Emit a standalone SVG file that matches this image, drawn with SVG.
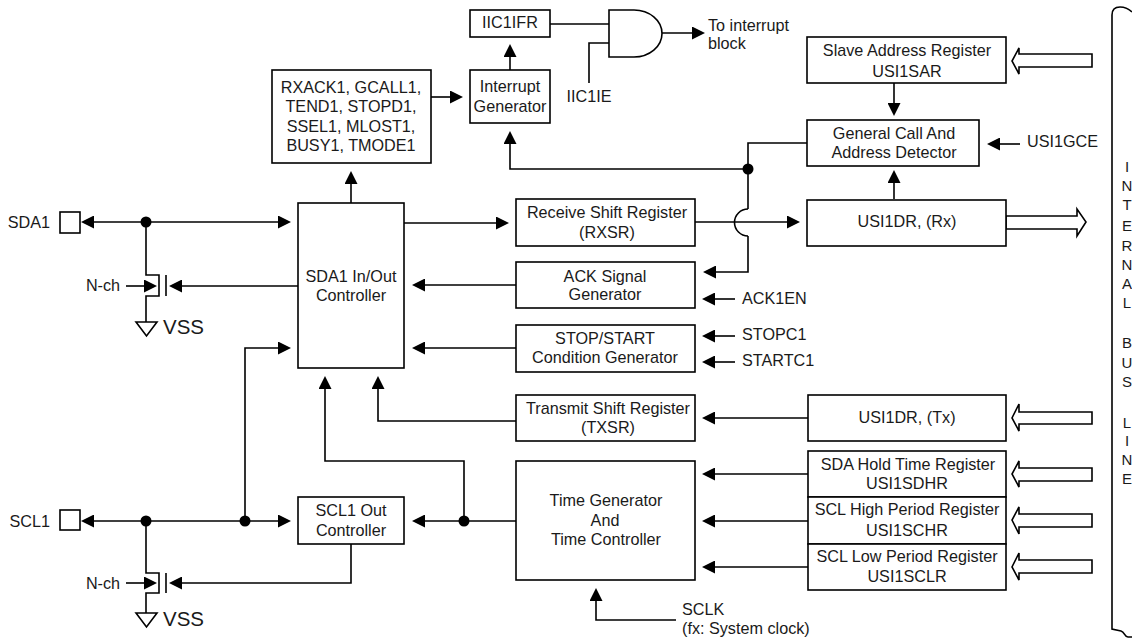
<svg xmlns="http://www.w3.org/2000/svg" width="1132" height="641" viewBox="0 0 1132 641">
<defs>
<marker id="a" markerUnits="userSpaceOnUse" markerWidth="13" markerHeight="13" refX="11" refY="6.500" orient="auto"><path d="M0 0L13 6.500L0 13Z" fill="#000"/></marker>
</defs>
<style>
text{font-family:"Liberation Sans",Arial,sans-serif;font-size:16.2px;fill:#1a1a1a;text-anchor:middle}
.l{text-anchor:start}
.e{text-anchor:end}
.b{fill:#fff;stroke:#000;stroke-width:1.6}
.c{fill:none;stroke:#000;stroke-width:1.6}
.w{fill:#fff;stroke:#000;stroke-width:1.6}
.v{font-size:20.5px}
.m{marker-end:url(#a)}
.bus text{font-size:15px}
</style>
<rect width="1132" height="641" fill="#fff"/>
<g id="connectors">
<path class="c m" d="M146 222H289"/><path class="c m" d="M146 222H83"/>
<path class="c" d="M146 222V275H159V296H146V322"/><path class="c m" d="M126 286H155"/>
<path class="c m" d="M298 286H171"/><path class="c" d="M166 275V296"/>
<path class="c m" d="M146 521H289"/><path class="c m" d="M146 521H83"/>
<path class="c" d="M146 521V573H159V593H146V613"/><path class="c m" d="M126 583H155"/>
<path class="c m" d="M351 544V583H171"/><path class="c" d="M166 573V593"/>
<path class="c m" d="M245 521V348H289"/>
<path class="c m" d="M516 521H414"/>
<path class="c m" d="M464 521V461H325V378"/>
<path class="c m" d="M516 421H378V378"/>
<path class="c m" d="M351 203V173"/>
<path class="c m" d="M404 223H507"/>
<path class="c m" d="M516 285H414"/>
<path class="c m" d="M516 348H414"/>
<path class="c m" d="M695 222H798"/>
<path class="c" d="M748 209A13.500 13.500 0 0 0 748 236"/>
<path class="c" d="M807 143H748V209"/>
<path class="c m" d="M748 236V272H705"/>
<path class="c m" d="M748 169H510V133"/>
<path class="c m" d="M431 97H461"/>
<path class="c m" d="M510 70V46"/>
<path class="c" d="M550 24H609"/><path class="c" d="M589 83V43H609"/>
<path class="c m" d="M662 33H703"/>
<path class="c m" d="M894 83V114"/>
<path class="c m" d="M894 199V172"/>
<path class="c m" d="M1020 144H989"/>
<path class="c m" d="M735 299H704"/>
<path class="c m" d="M735 336H704"/>
<path class="c m" d="M735 362H704"/>
<path class="c m" d="M808 418H704"/>
<path class="c m" d="M808 474H704"/>
<path class="c m" d="M808 521H704"/>
<path class="c m" d="M808 567H704"/>
<path class="c m" d="M676 620H596V590"/>
<circle cx="146" cy="222" r="5.500"/><circle cx="146" cy="521" r="5.500"/><circle cx="245" cy="521" r="5.500"/><circle cx="464" cy="521" r="5.500"/><circle cx="748" cy="169" r="5.500"/>
</g>
<g id="gate"><path class="b" d="M609 10H634A28 23.500 0 0 1 634 57H609Z"/></g>
<g id="bus-arrows">
<path class="w" d="M1092 54H1019V48L1012 61L1019 74V67H1092Z"/>
<path class="w" d="M1092 412H1019V404L1012 418L1019 431V424H1092Z"/>
<path class="w" d="M1092 468H1019V461L1012 474L1019 487V481H1092Z"/>
<path class="w" d="M1092 514H1019V507L1012 520L1019 534V527H1092Z"/>
<path class="w" d="M1092 560H1019V553L1012 567L1019 580V573H1092Z"/>
<path class="w" d="M1006 216H1077V209L1086 222L1077 236V229H1006Z"/>
</g>
<g id="bus-line"><path class="c" d="M1132 12C1128 8 1125 7 1120 7C1114 7 1112 10 1112 15V629L1121 631C1125 632 1124 637 1128 637H1132"/></g>
<g id="sda1"><rect class="b" x="60" y="212" width="20" height="21"/><text class="e" x="50" y="228">SDA1</text></g>
<g id="scl1"><rect class="b" x="60" y="510" width="20" height="20"/><text class="e" x="50" y="527">SCL1</text></g>
<g id="vss1"><path class="c" d="M136 322H157L146.500 336Z"/><text class="v l" x="163" y="334">VSS</text><text x="103" y="291">N-ch</text></g>
<g id="vss2"><path class="c" d="M136 613H157L146.500 627Z"/><text class="v l" x="163" y="626">VSS</text><text x="103" y="589">N-ch</text></g>
<g id="status"><rect class="b" x="272" y="70" width="159" height="93"/><text x="351" y="93">RXACK1, GCALL1,</text><text x="351" y="112">TEND1, STOPD1,</text><text x="351" y="132">SSEL1, MLOST1,</text><text x="351" y="151">BUSY1, TMODE1</text></g>
<g id="iic1ifr"><rect class="b" x="470" y="10" width="80" height="27"/><text x="510" y="28">IIC1IFR</text></g>
<g id="int"><rect class="b" x="470" y="70" width="80" height="53"/><text x="510" y="92">Interrupt</text><text x="510" y="112">Generator</text></g>
<text x="589" y="102">IIC1IE</text>
<text class="l" x="708" y="31">To interrupt</text><text class="l" x="708" y="49">block</text>
<g id="sar"><rect class="b" x="807" y="37" width="199" height="46"/><text x="907" y="56">Slave Address Register</text><text x="907" y="77">USI1SAR</text></g>
<g id="gc"><rect class="b" x="807" y="120" width="172" height="46"/><text x="894" y="139">General Call And</text><text x="894" y="158">Address Detector</text></g>
<text class="l" x="1027" y="147">USI1GCE</text>
<g id="sdac"><rect class="b" x="298" y="203" width="106" height="165"/><text x="351" y="282">SDA1 In/Out</text><text x="351" y="301">Controller</text></g>
<g id="rx"><rect class="b" x="516" y="199" width="179" height="47"/><text x="607" y="218">Receive Shift Register</text><text x="607" y="238">(RXSR)</text></g>
<g id="dr"><rect class="b" x="807" y="200" width="199" height="46"/><text x="907" y="227">USI1DR, (Rx)</text></g>
<g id="ack"><rect class="b" x="516" y="262" width="179" height="46"/><text x="605" y="282">ACK Signal</text><text x="605" y="300">Generator</text></g>
<text class="l" x="742" y="304">ACK1EN</text>
<g id="stop"><rect class="b" x="516" y="325" width="179" height="47"/><text x="605" y="344">STOP/START</text><text x="605" y="363">Condition Generator</text></g>
<text class="l" x="742" y="340">STOPC1</text><text class="l" x="742" y="366">STARTC1</text>
<g id="tx"><rect class="b" x="516" y="395" width="179" height="46"/><text x="608" y="414">Transmit Shift Register</text><text x="608" y="433">(TXSR)</text></g>
<g id="drt"><rect class="b" x="808" y="395" width="198" height="46"/><text x="907" y="423">USI1DR, (Tx)</text></g>
<g id="tg"><rect class="b" x="516" y="461" width="179" height="119"/><text x="606" y="506">Time Generator</text><text x="605" y="526">And</text><text x="606" y="545">Time Controller</text></g>
<g id="scl"><rect class="b" x="298" y="497" width="106" height="47"/><text x="351" y="516">SCL1 Out</text><text x="351" y="536">Controller</text></g>
<g id="h"><rect class="b" x="808" y="451" width="198" height="46"/><text x="908" y="470">SDA Hold Time Register</text><text x="907" y="489">USI1SDHR</text></g>
<g id="hi"><rect class="b" x="808" y="497" width="198" height="47"/><text x="907" y="515">SCL High Period Register</text><text x="907" y="536">USI1SCHR</text></g>
<g id="lo"><rect class="b" x="808" y="544" width="198" height="46"/><text x="907" y="562">SCL Low Period Register</text><text x="907" y="582">USI1SCLR</text></g>
<text x="682" y="615" class="l">SCLK</text><text x="682" y="634" class="l">(fx: System clock)</text>
<g id="vertical" class="bus"><text x="1127" y="172">I</text><text x="1127" y="191">N</text><text x="1127" y="210">T</text><text x="1127" y="231">E</text><text x="1127" y="251">R</text><text x="1127" y="270">N</text><text x="1127" y="289">A</text><text x="1127" y="308">L</text><text x="1127" y="348">B</text><text x="1127" y="368">U</text><text x="1127" y="387">S</text><text x="1127" y="428">L</text><text x="1127" y="446">I</text><text x="1127" y="465">N</text><text x="1127" y="484">E</text></g>
</svg>
